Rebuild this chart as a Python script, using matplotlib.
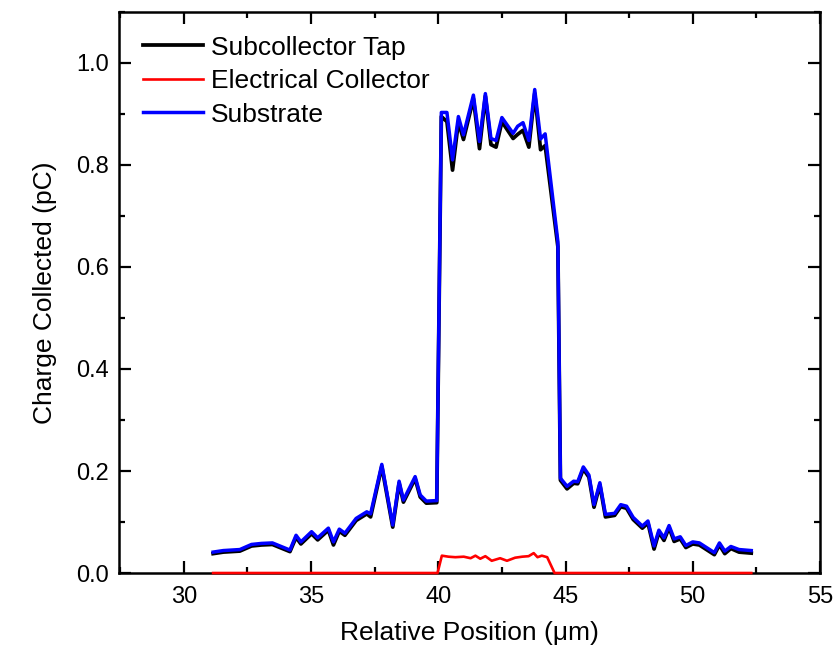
import matplotlib
matplotlib.use("Agg")
import matplotlib.pyplot as plt
from matplotlib.ticker import MultipleLocator, FormatStrFormatter

plt.rcParams['font.family'] = ['Liberation Sans', 'DejaVu Sans']

# positions (um) shared by the tap and substrate curves
position = [31.15, 31.55, 32.2, 32.66, 33.05, 33.48, 34.17, 34.41, 34.6, 35.02,
            35.26, 35.68, 35.88, 36.11, 36.33, 36.77, 37.19, 37.34, 37.78, 38.21,
            38.46, 38.63, 39.09, 39.29, 39.53, 39.94, 40.12, 40.34, 40.56, 40.79,
            40.99, 41.38, 41.62, 41.85, 42.07, 42.27, 42.5, 42.94, 43.12, 43.33,
            43.56, 43.79, 44.02, 44.2, 44.7, 44.8, 45.06, 45.32, 45.48, 45.7,
            45.92, 46.12, 46.35, 46.57, 46.93, 47.17, 47.4, 47.66, 48.02, 48.24,
            48.48, 48.67, 48.87, 49.07, 49.27, 49.51, 49.73, 50.0, 50.26, 50.85,
            51.05, 51.26, 51.5, 51.82, 52.3]

substrate = [0.041, 0.044, 0.046, 0.056, 0.058, 0.059, 0.045, 0.074, 0.061, 0.081,
             0.069, 0.088, 0.061, 0.086, 0.078, 0.107, 0.12, 0.116, 0.213, 0.094,
             0.18, 0.143, 0.189, 0.153, 0.141, 0.142, 0.903, 0.903, 0.81, 0.895,
             0.859, 0.937, 0.846, 0.94, 0.852, 0.848, 0.893, 0.862, 0.876, 0.883,
             0.848, 0.948, 0.851, 0.861, 0.65, 0.186, 0.17, 0.18, 0.179, 0.208,
             0.192, 0.134, 0.177, 0.115, 0.117, 0.134, 0.131, 0.109, 0.092, 0.102,
             0.053, 0.084, 0.069, 0.093, 0.067, 0.071, 0.054, 0.061, 0.059, 0.04,
             0.059, 0.043, 0.052, 0.046, 0.044]

subcollector_tap = [0.038, 0.041, 0.043, 0.053, 0.055, 0.056, 0.042, 0.07, 0.057, 0.077,
                    0.065, 0.084, 0.055, 0.082, 0.074, 0.103, 0.116, 0.11, 0.209, 0.09,
                    0.176, 0.139, 0.185, 0.149, 0.137, 0.138, 0.895, 0.885, 0.79, 0.885,
                    0.85, 0.93, 0.832, 0.935, 0.84, 0.835, 0.885, 0.852, 0.86, 0.868,
                    0.835, 0.94, 0.83, 0.838, 0.64, 0.182, 0.165, 0.176, 0.175, 0.204,
                    0.188, 0.129, 0.173, 0.11, 0.113, 0.13, 0.127, 0.105, 0.088, 0.098,
                    0.047, 0.08, 0.064, 0.089, 0.062, 0.067, 0.05, 0.057, 0.055, 0.036,
                    0.055, 0.038, 0.048, 0.041, 0.039]

# electrical collector has its own sampling
position_ec = [31.15, 39.97, 40.14, 40.4, 40.67, 41.0, 41.27, 41.46, 41.65, 41.85,
               42.1, 42.43, 42.7, 43.02, 43.3, 43.55, 43.75, 43.9, 44.07, 44.28,
               44.57, 52.3]
electrical_collector = [0.0, 0.0, 0.034, 0.032, 0.031, 0.032, 0.029, 0.034, 0.028, 0.033,
                        0.024, 0.029, 0.024, 0.03, 0.032, 0.033, 0.039, 0.031, 0.034, 0.031,
                        0.0, 0.0]

fig = plt.figure(figsize=(8.36, 6.51), dpi=100)
ax = fig.add_axes([0.1423, 0.1198, 0.8385, 0.8618])

ax.plot(position, subcollector_tap, color='black', lw=2.7, label='Subcollector Tap')
ax.plot(position_ec, electrical_collector, color='#ff0000', lw=1.9,
        label='Electrical Collector', clip_on=False, zorder=3)
ax.plot(position, substrate, color='#0000ff', lw=2.5, label='Substrate', zorder=4)

ax.set_xlim(27.45, 55)
ax.set_ylim(0, 1.1)
ax.xaxis.set_major_locator(MultipleLocator(5))
ax.xaxis.set_minor_locator(MultipleLocator(2.5))
ax.yaxis.set_major_locator(MultipleLocator(0.2))
ax.yaxis.set_minor_locator(MultipleLocator(0.1))
ax.yaxis.set_major_formatter(FormatStrFormatter('%.1f'))

ax.tick_params(which='both', direction='in', top=True, right=True, width=1.6,
               labelsize=17)
ax.tick_params(which='major', length=8.5)
ax.tick_params(which='minor', length=4.3)
ax.tick_params(axis='x', pad=9)
ax.tick_params(axis='y', pad=7)
for s in ax.spines.values():
    s.set_linewidth(1.8)

ax.set_xlabel('Relative Position (\u03bcm)', fontsize=19, labelpad=10)
ax.set_ylabel('Charge Collected (pC)', fontsize=19, labelpad=14)

ax.legend(loc='upper left', frameon=False, fontsize=19, handlelength=2.3,
          handletextpad=0.3, labelspacing=0.36, borderaxespad=0.5)

fig.savefig('out.png', dpi=100)
